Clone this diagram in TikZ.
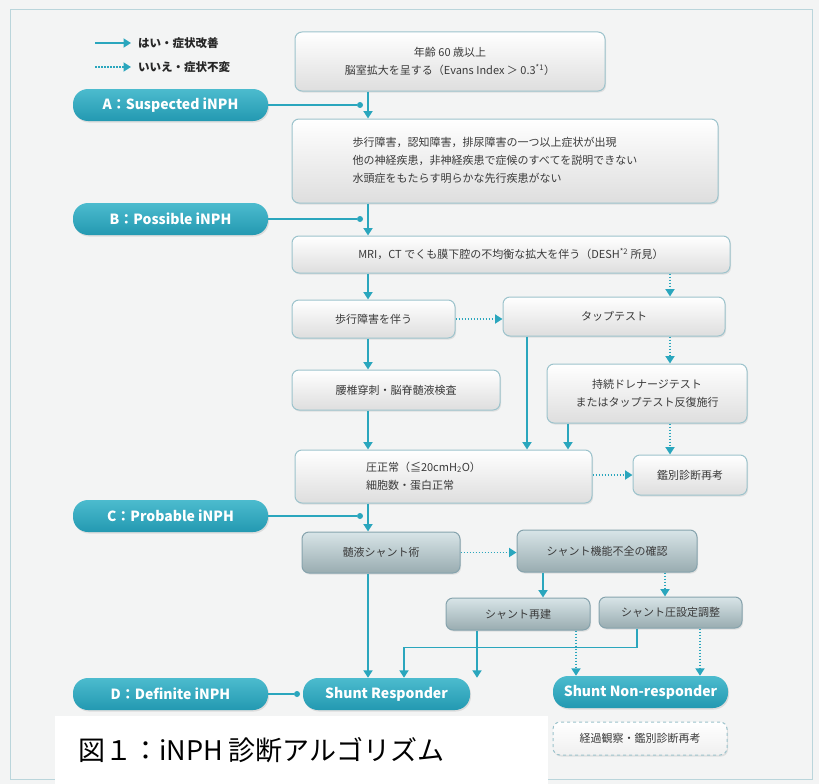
\documentclass[tikz,border=0pt]{standalone}
\usepackage{fontspec}
\setmainfont{Noto Sans CJK JP}
\usetikzlibrary{arrows.meta,shadows}
\definecolor{lk}{HTML}{2AA6BD}
\definecolor{pilltop}{HTML}{4CBBCE}
\definecolor{pillbot}{HTML}{2399B1}
\definecolor{bxedge}{HTML}{9CC3CC}
\definecolor{dkedge}{HTML}{86A3AD}
\definecolor{txt}{HTML}{3A3A3A}
\definecolor{paper}{HTML}{F3F4F4}
\tikzset{
  yes/.style={draw=lk, line width=1.8pt, -{Triangle[length=7.5pt,width=9pt]}},
  no/.style={draw=lk, line width=1.8pt, dash pattern=on 1.6pt off 1.4pt, -{Triangle[length=7.5pt,width=9pt]}},
  link/.style={draw=lk, line width=1.2pt},
  dotnode/.style={circle, fill=lk, inner sep=0pt, minimum size=6pt},
  box/.style={rectangle, rounded corners=7pt, draw=bxedge, line width=1pt,
    top color=white, bottom color=black!13, text=txt,
    font=\fontsize{11}{18}\selectfont, align=center, inner sep=2pt,
    drop shadow={opacity=0.18, shadow xshift=1pt, shadow yshift=-1.5pt}},
  dbox/.style={box, draw=dkedge, top color=black!8!bxedge!35, bottom color=black!30!bxedge!70},
  pill/.style={rectangle, rounded corners=15pt, draw=none, top color=pilltop, bottom color=pillbot,
    text=white, font=\fontsize{14}{16}\selectfont\bfseries, inner sep=0pt,
    drop shadow={opacity=0.2, shadow xshift=1pt, shadow yshift=-1.5pt}},
  legtext/.style={anchor=west, font=\fontsize{11.5}{13}\selectfont\bfseries, text=black!85, inner sep=0pt},
}
\begin{document}
\begin{tikzpicture}[x=1pt,y=-1pt]
\useasboundingbox (0,0) rectangle (819,784);
\fill[paper] (0,0) rectangle (819,784);
\draw[bxedge!70, line width=1pt] (10,10) rectangle (812,779);

% guide coordinates
\coordinate (tx) at (368,0);
\coordinate (tr) at (670,0);
\coordinate (c527) at (527,0);
\coordinate (c568) at (568,0);
\coordinate (c543) at (543,0);
\coordinate (c665) at (665,0);
\coordinate (c477) at (477,0);
\coordinate (c576) at (576,0);
\coordinate (c637) at (637,0);
\coordinate (c700) at (700,0);
\coordinate (c404) at (404,0);

% legend
\coordinate (ly1) at (95,43); \coordinate (ly2) at (131,43);
\coordinate (ln1) at (95,67); \coordinate (ln2) at (131,67);
\draw[yes] (ly1) -- (ly2);
\draw[no] (ln1) -- (ln2);
\node[legtext] (legyes) at (138,43) {はい・症状改善};
\node[legtext] (legno) at (138,67) {いいえ・症状不変};

% boxes
\node[box, minimum width=310pt, minimum height=59pt] (b1) at (450,61.5)
  {年齢 60 歳以上\\脳室拡大を呈する（Evans Index ＞ 0.3\textsuperscript{*1}）};
\node[box, minimum width=426pt, minimum height=84pt] (b2) at (505,161)
  {\begin{tabular}{@{}l@{}}歩行障害，認知障害，排尿障害の一つ以上症状が出現\\
  他の神経疾患，非神経疾患で症候のすべてを説明できない\\
  水頭症をもたらす明らかな先行疾患がない\end{tabular}\hspace*{20pt}};
\node[box, minimum width=438pt, minimum height=37pt] (b3) at (511,254.5)
  {MRI，CT でくも膜下腔の不均衡な拡大を伴う（DESH\textsuperscript{*2} 所見）};
\node[box, minimum width=163pt, minimum height=38pt] (b4) at (373.5,319) {歩行障害を伴う};
\node[box, minimum width=222pt, minimum height=39pt] (b5) at (614,316.5) {タップテスト};
\node[box, minimum width=208pt, minimum height=40pt] (b6) at (396,390) {腰椎穿刺・脳脊髄液検査};
\node[box, minimum width=200pt, minimum height=59pt] (b7) at (647,393.5)
  {持続ドレナージテスト\\またはタップテスト反復施行};
\node[box, minimum width=297pt, minimum height=53pt] (b8) at (443.5,476.5)
  {\begin{tabular}{@{}l@{}}圧正常（≦20cmH\textsubscript{2}O）\\細胞数・蛋白正常\end{tabular}\hspace*{40pt}};
\node[box, minimum width=114pt, minimum height=40pt] (b9) at (690,475) {鑑別診断再考};
\node[dbox, minimum width=158pt, minimum height=41pt] (b10) at (381,552.5) {髄液シャント術};
\node[dbox, minimum width=180pt, minimum height=42pt] (b11) at (607,551) {シャント機能不全の確認};
\node[dbox, minimum width=144pt, minimum height=32pt] (b12) at (518,614) {シャント再建};
\node[dbox, minimum width=143pt, minimum height=31pt] (b13) at (670.5,612.5) {シャント圧設定調整};

% pills
\node[pill, minimum width=195pt, minimum height=32pt] (pA) at (170.5,105) {A：Suspected iNPH};
\node[pill, minimum width=195pt, minimum height=32pt] (pB) at (170.5,219) {B：Possible iNPH};
\node[pill, minimum width=195pt, minimum height=32pt] (pC) at (170.5,516) {C：Probable iNPH};
\node[pill, minimum width=195pt, minimum height=32pt] (pD) at (170.5,694) {D：Definite iNPH};
\node[pill, minimum width=167pt, minimum height=32pt] (sr) at (386.5,694) {Shunt Responder};
\node[pill, minimum width=175pt, minimum height=32pt] (snr) at (640.5,692) {Shunt Non-responder};
\node[box, dashed, minimum width=174pt, minimum height=33pt, top color=white, bottom color=black!6] (obs) at (640,738.5) {経過観察・鑑別診断再考};

% dots
\node[dotnode] (dA) at (360,105) {};
\node[dotnode] (dB) at (360,219) {};
\node[dotnode] (dC) at (360,516) {};
\node[dotnode] (dD) at (297,694) {};
\draw[link] (pA.east) -- (dA);
\draw[link] (pB.east) -- (dB);
\draw[link] (pC.east) -- (dC);
\draw[link] (pD.east) -- (dD);

% trunk
\draw[yes] (b1.south -| tx) -- (b2.north -| tx);
\draw[yes] (b2.south -| tx) -- (b3.north -| tx);
\draw[yes] (b3.south -| tx) -- (b4.north -| tx);
\draw[no]  (b3.south -| tr) -- (b5.north -| tr);
\draw[no]  (b4.east) -- (b4.east -| b5.west);
\draw[yes] (b4.south -| tx) -- (b6.north -| tx);
\draw[no]  (b5.south -| tr) -- (b7.north -| tr);
\draw[yes] (b5.south -| c527) -- (b8.north -| c527);
\draw[yes] (b6.south -| tx) -- (b8.north -| tx);
\draw[yes] (b7.south -| c568) -- (b8.north -| c568);
\draw[no]  (b7.south -| tr) -- (b9.north -| tr);
\draw[no]  (b8.east |- b9.west) -- (b9.west);
\draw[yes] (b8.south -| tx) -- (b10.north -| tx);
\draw[no]  (b10.east) -- (b10.east -| b11.west);
\draw[yes] (b11.south -| c543) -- (b12.north -| c543);
\draw[no]  (b11.south -| c665) -- (b13.north -| c665);
\draw[yes] (b10.south -| tx) -- (sr.north -| tx);
\draw[yes] (b12.south -| c477) -- (sr.north -| c477);
\draw[yes] (b13.south -| c637) -- ++(0,19) -| (sr.north -| c404);
\draw[no]  (b12.south -| c576) -- (snr.north -| c576);
\draw[no]  (b13.south -| c700) -- (snr.north -| c700);

% caption
\fill[white] (55,716) rectangle (548,784);
\node[anchor=west, inner sep=0pt, font=\fontsize{27}{30}\selectfont, text=black] (cap) at (78,750) {図１：iNPH 診断アルゴリズム};
\end{tikzpicture}
\end{document}
